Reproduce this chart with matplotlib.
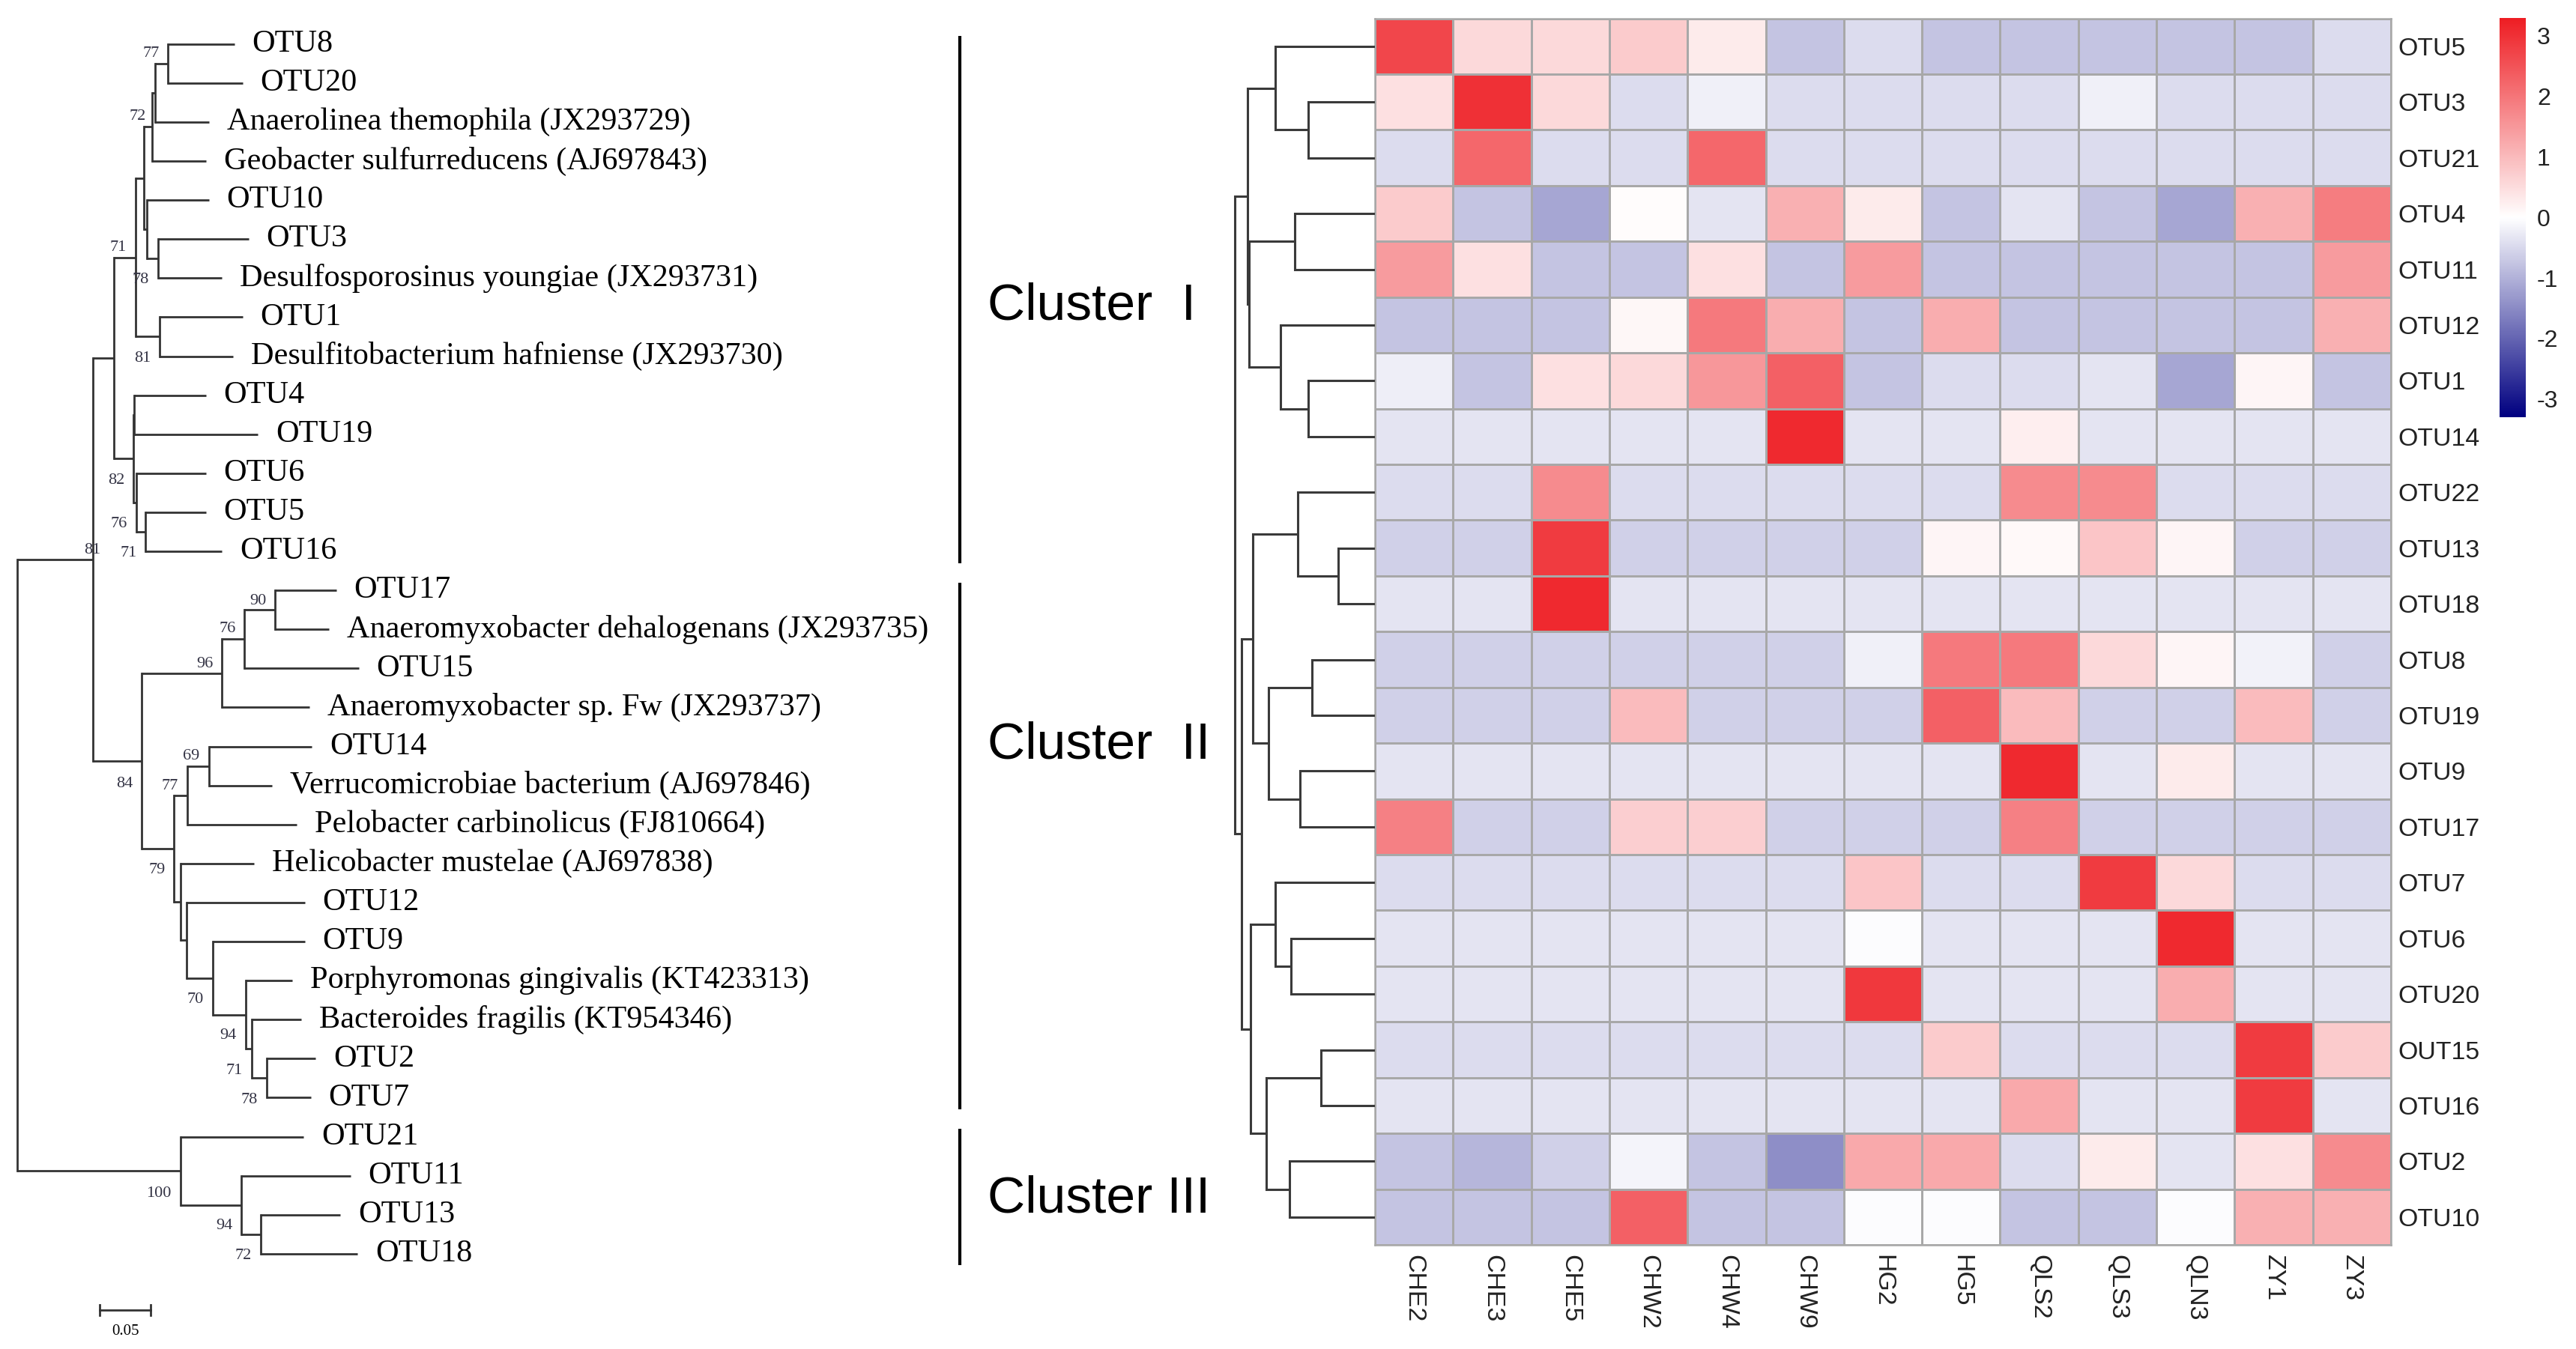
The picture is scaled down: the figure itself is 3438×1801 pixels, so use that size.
import numpy as np
import matplotlib
matplotlib.use("Agg")
import matplotlib.pyplot as plt
from matplotlib.colors import LinearSegmentedColormap, Normalize

plt.rcParams["axes.unicode_minus"] = False

# ---------------- data ----------------
samples = ["CHE2", "CHE3", "CHE5", "CHW2", "CHW4", "CHW9", "HG2", "HG5",
           "QLS2", "QLS3", "QLN3", "ZY1", "ZY3"]

otus = ["OTU5", "OTU3", "OTU21", "OTU4", "OTU11", "OTU12", "OTU1", "OTU14",
        "OTU22", "OTU13", "OTU18", "OTU8", "OTU19", "OTU9", "OTU17", "OTU7",
        "OTU6", "OTU20", "OUT15", "OTU16", "OTU2", "OTU10"]

values = np.array([
    [2.7, 0.55, 0.55, 0.75, 0.3, -0.75, -0.45, -0.75, -0.75, -0.75, -0.75, -0.75, -0.45],
    [0.45, 3.0, 0.55, -0.45, -0.2, -0.45, -0.45, -0.45, -0.45, -0.2, -0.45, -0.45, -0.45],
    [-0.45, 2.2, -0.45, -0.45, 2.2, -0.45, -0.45, -0.45, -0.45, -0.45, -0.45, -0.45, -0.45],
    [0.75, -0.75, -1.15, 0.05, -0.35, 1.15, 0.3, -0.75, -0.35, -0.75, -1.15, 1.15, 1.9],
    [1.45, 0.45, -0.75, -0.75, 0.45, -0.75, 1.45, -0.75, -0.75, -0.75, -0.75, -0.75, 1.45],
    [-0.75, -0.75, -0.75, 0.12, 1.95, 1.2, -0.75, 1.2, -0.75, -0.75, -0.75, -0.75, 1.15],
    [-0.22, -0.75, 0.45, 0.55, 1.5, 2.3, -0.75, -0.45, -0.45, -0.35, -1.15, 0.15, -0.75],
    [-0.35, -0.35, -0.35, -0.35, -0.35, 3.1, -0.35, -0.35, 0.25, -0.35, -0.35, -0.35, -0.35],
    [-0.45, -0.45, 1.7, -0.45, -0.45, -0.45, -0.45, -0.45, 1.7, 1.7, -0.45, -0.45, -0.45],
    [-0.6, -0.6, 2.85, -0.6, -0.6, -0.6, -0.6, 0.15, 0.1, 0.85, 0.15, -0.6, -0.6],
    [-0.35, -0.35, 3.1, -0.35, -0.35, -0.35, -0.35, -0.35, -0.35, -0.35, -0.35, -0.35, -0.35],
    [-0.6, -0.6, -0.6, -0.6, -0.6, -0.6, -0.2, 1.95, 1.95, 0.55, 0.15, -0.18, -0.6],
    [-0.6, -0.6, -0.6, 1.0, -0.6, -0.6, -0.6, 2.3, 1.0, -0.6, -0.6, 1.0, -0.6],
    [-0.35, -0.35, -0.35, -0.35, -0.35, -0.35, -0.35, -0.35, 3.1, -0.35, 0.3, -0.35, -0.35],
    [1.85, -0.6, -0.6, 0.7, 0.7, -0.6, -0.6, -0.6, 1.85, -0.6, -0.6, -0.6, -0.6],
    [-0.45, -0.45, -0.45, -0.45, -0.45, -0.45, 0.85, -0.45, -0.45, 2.85, 0.55, -0.45, -0.45],
    [-0.35, -0.35, -0.35, -0.35, -0.35, -0.35, -0.05, -0.35, -0.35, -0.35, 3.1, -0.35, -0.35],
    [-0.35, -0.35, -0.35, -0.35, -0.35, -0.35, 2.9, -0.35, -0.35, -0.35, 1.2, -0.35, -0.35],
    [-0.45, -0.45, -0.45, -0.45, -0.45, -0.45, -0.45, 0.75, -0.45, -0.45, -0.45, 2.85, 0.75],
    [-0.35, -0.35, -0.35, -0.35, -0.35, -0.35, -0.35, -0.35, 1.25, -0.35, -0.35, 2.85, -0.35],
    [-0.75, -0.95, -0.6, -0.15, -0.75, -1.45, 1.25, 1.25, -0.45, 0.3, -0.35, 0.45, 1.7],
    [-0.75, -0.75, -0.75, 2.3, -0.75, -0.75, -0.05, -0.05, -0.75, -0.75, -0.05, 1.15, 1.15],
])

# row dendrogram of the heatmap: (height, left, right), leaves are row indices
row_dendro = (187,
              (170.5, (133, 0, (89, 1, 2)),
                      (168, (107, 3, 4), (126, 5, (89, 6, 7)))),
              (178,
               (163, (103, 8, (49, 9, 10)), (142, (84, 11, 12), (100, 13, 14))),
               (166, (133, 15, (112, 16, 17)), (145, (72, 18, 19), (114, 20, 21)))))


# phylogenetic tree: node = (depth, bootstrap, label_pos, children), leaf = (name, depth)
def N(depth, boot, pos, *kids):
    return (depth, boot, pos, list(kids))


def L(name, depth):
    return (name, depth)


tree = N(0.0, None, 0,
    N(0.074, "81", -1,
        N(0.095, None, 0,
            N(0.116, "71", 0.44,
                N(0.124, None, 0,
                    N(0.132, None, 0,
                        N(0.135, "72", 0.91,
                            N(0.148, "77", 0.24, L("OTU8", 0.213), L("OTU20", 0.221)),
                            L("Anaerolinea themophila (JX293729)", 0.188)),
                        L("Geobacter sulfurreducens (AJ697843)", 0.185)),
                    N(0.127, None, 0,
                        L("OTU10", 0.188),
                        N(0.138, "78", 1.05, L("OTU3", 0.227),
                          L("Desulfosporosinus youngiae (JX293731)", 0.201)))),
                N(0.140, "81", 1.05, L("OTU1", 0.221),
                  L("Desulfitobacterium hafniense (JX293730)", 0.212))),
            N(0.114, "82", 0.75,
                N(0.115, None, 0, L("OTU4", 0.185), L("OTU19", 0.236)),
                N(0.117, "76", 0.87, L("OTU6", 0.185),
                    N(0.126, "71", 1.04, L("OTU5", 0.185), L("OTU16", 0.201))))),
        N(0.122, "84", 0.63,
            N(0.201, "96", 0.37,
                N(0.223, "76", 0.33,
                    N(0.253, "90", 0.27, L("OTU17", 0.313),
                      L("Anaeromyxobacter dehalogenans (JX293735)", 0.306)),
                    L("OTU15", 0.335)),
                L("Anaeromyxobacter sp. Fw (JX293737)", 0.287)),
            N(0.154, "79", 0.70,
                N(0.167, "77", 0.35,
                    N(0.188, "69", 0.25, L("OTU14", 0.289),
                      L("Verrucomicrobiae bacterium (AJ697846)", 0.250)),
                    L("Pelobacter carbinolicus (FJ810664)", 0.274)),
                N(0.160, None, 0,
                    L("Helicobacter mustelae (AJ697838)", 0.232),
                    N(0.166, None, 0,
                        L("OTU12", 0.282),
                        N(0.192, "70", 0.79,
                            L("OTU9", 0.282),
                            N(0.224, "94", 0.81,
                                L("Porphyromonas gingivalis (KT423313)", 0.270),
                                N(0.230, "71", 0.88,
                                    L("Bacteroides fragilis (KT954346)", 0.279),
                                    N(0.245, "78", 1.06, L("OTU2", 0.293), L("OTU7", 0.288)))))))))),
    N(0.160, "100", 0.83,
        L("OTU21", 0.281),
        N(0.220, "94", 0.86, L("OTU11", 0.327),
            N(0.239, "72", 1.06, L("OTU13", 0.317), L("OTU18", 0.334)))))

clusters = [("Cluster  I", 0, 13, 6.72), ("Cluster  II", 14, 27, 17.97), ("Cluster III", 28, 31, 29.6)]
scale_len = 0.05

# ---------------- figure ----------------
W, H, DPI = 3438, 1801, 200
fig = plt.figure(figsize=(W / DPI, H / DPI), dpi=DPI)


def px_axes(x0, y0, x1, y1):
    return fig.add_axes([x0 / W, 1 - y1 / H, (x1 - x0) / W, (y1 - y0) / H])


serif = "Liberation Serif"
sans = "Liberation Sans"

# ---- tree ----
ax = px_axes(0, 0, 1640, H)
PXU = 1360.0      # pixels per unit branch length
ROW = 52.1        # pixels per leaf
ax.set_xlim(-23 / PXU, 1617 / PXU)
ax.set_ylim((H - 58.7) / ROW, -58.7 / ROW)
ax.axis("off")

tcol = "#333333"
tlw = 1.0
gap = 24 / PXU
bgap = 12 / PXU
counter = [0]


def draw(node, parent_x):
    if isinstance(node[0], str):
        name, d = node
        y = counter[0]
        counter[0] += 1
        ax.plot([parent_x, d], [y, y], color=tcol, lw=tlw, solid_capstyle="butt")
        ax.text(d + gap, y, name, family=serif, fontsize=15.2, va="center", ha="left")
        return y
    d, boot, pos, kids = node
    ys = [draw(k, d) for k in kids]
    y0, y1 = min(ys), max(ys)
    ym = (y0 + y1) / 2
    ax.plot([d, d], [y0, y1], color=tcol, lw=tlw, solid_capstyle="projecting")
    if parent_x is not None:
        ax.plot([parent_x, d], [ym, ym], color=tcol, lw=tlw, solid_capstyle="butt")
    if boot:
        if pos < 0:
            ax.text(d, ym - 0.05, boot, family=serif, fontsize=8, color="#333344",
                    ha="center", va="bottom")
        else:
            ax.text(d - bgap, y0 + pos * (y1 - y0), boot, family=serif, fontsize=8,
                    color="#333344", ha="right", va="center")
    return ym


draw(tree, None)

# scale bar
sb_x0 = 110 / PXU
ax.plot([sb_x0, sb_x0 + scale_len], [32.44, 32.44], color=tcol, lw=1.0)
for xe in (sb_x0, sb_x0 + scale_len):
    ax.plot([xe, xe], [32.3, 32.58], color=tcol, lw=1.0)
ax.text(sb_x0 + scale_len / 2, 32.8, "0.05", family=serif, fontsize=7.5,
        ha="center", va="top")

# cluster bars and labels
bar_x = 1258 / PXU
for lab, i0, i1, ylab in clusters:
    ax.plot([bar_x, bar_x], [i0 - 0.2, i1 + 0.3], color="black", lw=1.5,
            solid_capstyle="butt")
    ax.text(1295 / PXU, ylab, lab, family=sans, fontsize=25, ha="left", va="center")

# ---- heatmap ----
hx0, hy0, hx1, hy1 = 1835, 24.6, 3191, 1662
hax = px_axes(hx0, hy0, hx1, hy1)
cmap = LinearSegmentedColormap.from_list("nwr", ["#000080", "#ffffff", "#EE1D23"], N=256)
norm = Normalize(vmin=-3.3, vmax=3.3)
mesh = hax.pcolormesh(np.arange(len(samples) + 1), np.arange(len(otus) + 1), values,
                      cmap=cmap, norm=norm, edgecolors="#a8a8a8", linewidth=0.9)
hax.set_xlim(0, len(samples))
hax.set_ylim(len(otus), 0)
hax.set_xticks(np.arange(len(samples)) + 0.5)
hax.set_xticklabels(samples, rotation=270, family=sans, fontsize=12.2, color="#222222")
hax.set_yticks(np.arange(len(otus)) + 0.5)
hax.set_yticklabels(otus, family=sans, fontsize=12.2, color="#222222")
hax.yaxis.tick_right()
hax.tick_params(axis="y", length=0, pad=3.2)
hax.tick_params(axis="x", length=0, pad=4.7)
for s in hax.spines.values():
    s.set_color("#a8a8a8")
    s.set_linewidth(0.9)

# row dendrogram
dax = px_axes(1640, hy0, hx0, hy1)
dax.set_xlim(195, 0)
dax.set_ylim(len(otus), 0)
dax.axis("off")
dcol = "#3a3a3a"


def dendro(node):
    if isinstance(node, int):
        return node + 0.5, 0
    h, a, b = node
    ya, ha_ = dendro(a)
    yb, hb = dendro(b)
    dax.plot([ha_, h, h, hb], [ya, ya, yb, yb], color=dcol, lw=1.1,
             solid_capstyle="butt", solid_joinstyle="miter")
    return (ya + yb) / 2, h


dendro(row_dendro)

# colorbar
cax = px_axes(3336, 23.7, 3371, 557)
cb = fig.colorbar(mesh, cax=cax, ticks=[-3, -2, -1, 0, 1, 2, 3])
cb.outline.set_visible(False)
cax.tick_params(length=0, pad=5.4, labelsize=11.5)
for t in cax.get_yticklabels():
    t.set_family(sans)
    t.set_color("#222222")

fig.savefig("out.png", dpi=DPI)
